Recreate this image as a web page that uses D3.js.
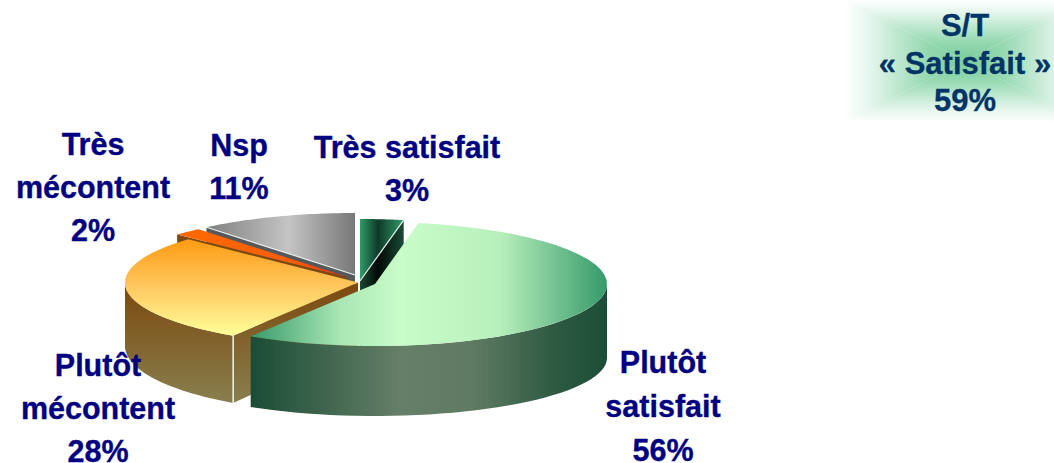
<!DOCTYPE html>
<html><head><meta charset="utf-8">
<script src="https://cdn.jsdelivr.net/npm/d3@7"></script>
<style>html,body{margin:0;padding:0;background:#fff;overflow:hidden}svg{display:block}text{font-family:"Liberation Sans",Arial,sans-serif;font-weight:700}</style>
</head><body><svg id="c" width="1054" height="463"></svg>
<script>
// ---- data
const categories = ["Très satisfait","Plutôt satisfait","Plutôt mécontent","Très mécontent","Nsp"];
const values = [3,56,28,2,11];
const labelLines = [["Très satisfait","3%"],["Plutôt","satisfait","56%"],["Plutôt","mécontent","28%"],["Très","mécontent","2%"],["Nsp","11%"]];
const badgeLines = ["S/T","« Satisfait »","59%"];

// ---- layout (kept apart from the data)
const geometry = [
 {cx:360,cy:281,rx:233,ry:62,by:349,bry:62},
 {cx:375,cy:284,rx:232,ry:62,by:358,bry:58},
 {cx:358,cy:282.5,rx:233,ry:63,by:346,bry:67.5},
 {cx:347,cy:277,rx:233,ry:62,by:343,bry:62},
 {cx:355,cy:275,rx:233,ry:62,by:343,bry:62}
];
const labelPos = [[407,157.5],[663,373],[98,376],[93,155],[239,156]];
const labelStep = [43,44,43,43,43];
const drawOrder = [0,4,3,2,1];

const svg = d3.select("#c"), defs = svg.append("defs");
function grad(id,x1,y1,x2,y2,stops){
  const g = defs.append("linearGradient").attr("id",id).attr("gradientUnits","userSpaceOnUse")
    .attr("x1",x1).attr("y1",y1).attr("x2",x2).attr("y2",y2);
  stops.forEach(s=>g.append("stop").attr("offset",s[0]).attr("stop-color",s[1]).attr("stop-opacity",s[2]===undefined?1:s[2]));
  return `url(#${id})`;
}
const styles = [
 {top:grad("t0",360,0,403,0,[[0,"#2f9a68"],[.42,"#0f3a28"],[1,"#2f9a68"]]),
  side:"#1a4a35",cut:grad("c0",360,0,403,0,[[0,"#1a4a35"],[.42,"#020806"],[1,"#1a4a35"]])},
 {top:grad("t1",250,0,607,0,[[0,"#36996a"],[.25,"#a8e6b4"],[.42,"#c8fcc8"],[.7,"#b8f0bc"],[1,"#36996a"]]),
  side:grad("s1",252,0,607,0,[[0,"#1b4d36"],[.42,"#667f68"],[.62,"#5f7b62"],[.85,"#2e5a42"],[1,"#1b4d36"]]),cut:"#1b4d36"},
 {top:grad("t2",0,238,0,336,[[0,"#ff9a10"],[.5,"#ffc860"],[1,"#ffff99"]]),
  side:grad("s2",0,288,0,405,[[0,"#7c4a10"],[1,"#88804f"]]),
  cut:grad("c2",0,285,0,405,[[0,"#7c4a10"],[1,"#88804f"]])},
 {top:grad("t3",177,0,345,0,[[0,"#ff6a00"],[.7,"#ff5c00"],[1,"#ff2a00"]]),side:"#7c4a10",cut:"#7c4a10"},
 {top:grad("t4",207,0,355,0,[[0,"#7f7f7f"],[.55,"#c4c4c4"],[1,"#787878"]]),side:"#555",cut:"#55595c"}
];
const edgeLines = [{radial:"end"},null,{vertical:"start"},null,{radial:"start"}];

// ---- pie angles from the values
const arcs = d3.pie().sort(null).value(d=>d)(values);
const P = (g,a,cy=g.cy,ry=g.ry)=>[g.cx+g.rx*Math.sin(a), cy-ry*Math.cos(a)];
const samples = (a,b)=>d3.range(0,41).map(i=>a+(b-a)*i/40);
const line = d3.line();
const root = svg.append("g");

drawOrder.forEach(i=>{
  const g=geometry[i], s=styles[i], a0=arcs[i].startAngle, a1=arcs[i].endAngle;
  const layer=root.append("g").attr("class","slice").datum(categories[i]);
  // outer wall (front half only)
  const v0=Math.max(a0,Math.PI/2), v1=Math.min(a1,Math.PI*1.5);
  if(v1>v0){
    const up=samples(v0,v1).map(a=>P(g,a));
    const dn=samples(v1,v0).map(a=>P(g,a,g.by,g.bry));
    layer.append("path").attr("d",line(up.concat(dn))+"Z").attr("fill",s.side);
  }
  // radial cut faces that look towards the viewer
  [[a0,Math.sin(a0)<-1e-6],[a1,Math.sin(a1)>1e-6]].forEach(([a,vis])=>{
    if(!vis) return;
    const e=P(g,a), eb=P(g,a,g.by,g.bry), d=g.by-g.cy;
    layer.append("path").attr("d",line([[g.cx,g.cy],e,eb,[g.cx,g.cy+d]])+"Z").attr("fill",s.cut);
  });
  // top face
  const rim=samples(a0,a1).map(a=>P(g,a));
  layer.append("path").attr("d",line([[g.cx,g.cy]].concat(rim))+"Z").attr("fill",s.top);
  // thin white separators
  const el=edgeLines[i];
  if(el&&el.radial){
    const e=P(g,el.radial==="end"?a1:a0);
    layer.append("line").attr("x1",g.cx).attr("y1",g.cy).attr("x2",e[0]).attr("y2",e[1]).attr("stroke","#e8eeea").attr("stroke-width",1.2);
  }
  if(el&&el.vertical){
    const t=P(g,a0), b=P(g,a0,g.by,g.bry);
    layer.append("line").attr("x1",t[0]).attr("y1",t[1]).attr("x2",b[0]).attr("y2",b[1]).attr("stroke","#f4f4ec").attr("stroke-width",1.5);
  }
});

// ---- labels
labelLines.forEach((lines,i)=>{
  svg.append("text").attr("fill","#000080").attr("stroke","#000080").attr("stroke-width",.35)
    .attr("font-size",30.5).attr("text-anchor","middle")
    .selectAll("tspan").data(lines).join("tspan")
    .attr("x",labelPos[i][0]).attr("y",(d,j)=>labelPos[i][1]+j*labelStep[i]).text(d=>d);
});

// ---- badge with a rectangular gradient from its centre
const B={cx:965,cy:61,hw:120,hh:61}, bs=[[0,"#7acc9c"],[.3,"#93d8af"],[.8,"#e6f6ed"],[1,"#ffffff"]];
[[[B.cx-B.hw,B.cy-B.hh],[B.cx+B.hw,B.cy-B.hh],[B.cx,0]],
 [[B.cx+B.hw,B.cy-B.hh],[B.cx+B.hw,B.cy+B.hh],[1,0]],
 [[B.cx+B.hw,B.cy+B.hh],[B.cx-B.hw,B.cy+B.hh],[B.cx,1]],
 [[B.cx-B.hw,B.cy+B.hh],[B.cx-B.hw,B.cy-B.hh],[-1,0]]].forEach((t,i)=>{
  const horizontal=i%2===1;
  const fill=horizontal?grad("b"+i,B.cx,0,B.cx+t[2][0]*B.hw,0,bs):grad("b"+i,0,B.cy,0,i===0?B.cy-B.hh:B.cy+B.hh,bs);
  svg.insert("path","g").attr("d",line([[B.cx,B.cy],t[0],t[1]])+"Z").attr("fill",fill);
});
svg.append("text").attr("fill","#003366").attr("stroke","#003366").attr("stroke-width",.3).attr("font-size",31).attr("text-anchor","middle")
  .selectAll("tspan").data(badgeLines).join("tspan")
  .attr("x",965).attr("y",(d,j)=>36+j*37.5).text(d=>d);
</script></body></html>
